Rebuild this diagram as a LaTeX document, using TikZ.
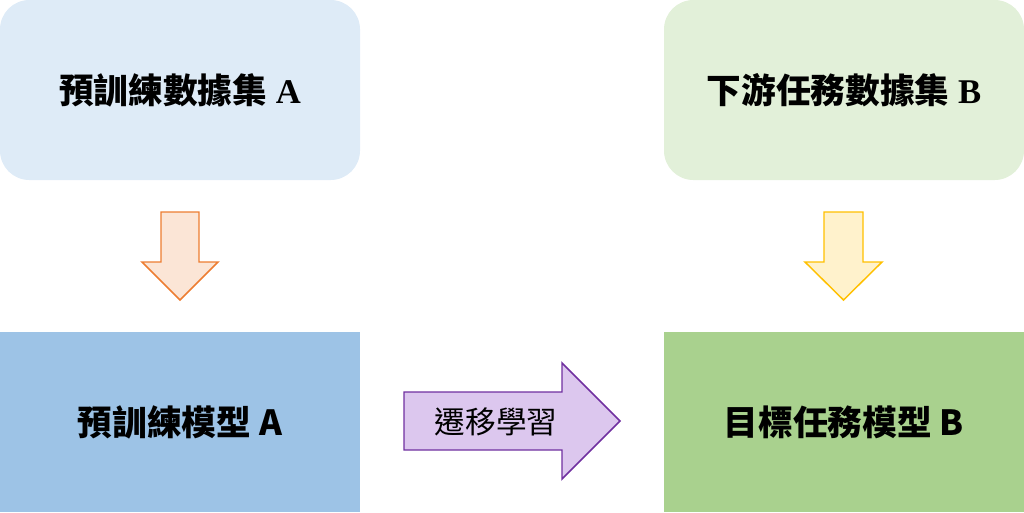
\documentclass[tikz,border=0pt]{standalone}
\usepackage{fontspec}
\setmainfont{Liberation Serif}
\newfontfamily\cjk{Noto Sans CJK TC}
\usetikzlibrary{calc}
\definecolor{dataBlue}{HTML}{DEEBF7}
\definecolor{dataGreen}{HTML}{E2F0D9}
\definecolor{modelBlue}{HTML}{9DC3E6}
\definecolor{modelGreen}{HTML}{A9D18E}
\definecolor{orangeFill}{HTML}{FBE5D6}
\definecolor{orangeLine}{HTML}{ED7D31}
\definecolor{yellowFill}{HTML}{FFF2CC}
\definecolor{yellowLine}{HTML}{FFC000}
\definecolor{purpleFill}{HTML}{DCC7EE}
\definecolor{purpleLine}{HTML}{7030A0}

\begin{document}
\begin{tikzpicture}[x=0.75pt, y=-0.75pt,
    box/.style={rectangle, minimum width=270pt, minimum height=135pt,
        inner sep=0pt, font=\fontsize{26}{31}\selectfont},
    databox/.style={box, rounded corners=22pt},
    blockarrow/.style={line width=1.1pt, line join=miter}]
    \useasboundingbox (0,0) rectangle (1024,512);
    % datasets
    \node[databox, fill=dataBlue] (dataA) at (180,90)
        {{\cjk\bfseries 預訓練數據集} \textbf{A}};
    \node[databox, fill=dataGreen] (dataB) at (844,90)
        {{\cjk\bfseries 下游任務數據集} \textbf{B}};
    % models
    \node[box, fill=modelBlue] (modelA) at (180,422)
        {\cjk\bfseries 預訓練模型 A};
    \node[box, fill=modelGreen] (modelB) at (844,422)
        {\cjk\bfseries 目標任務模型 B};

    % dataset -> model
    \draw[blockarrow, draw=orangeLine, fill=orangeFill]
        (161,212) -- (199,212) -- (199,262) -- (218,262) -- (180,300)
        -- (142,262) -- (161,262) -- cycle;
    \draw[blockarrow, draw=yellowLine, fill=yellowFill]
        (824,212) -- (863,212) -- (863,262) -- (882,262) -- (843.5,300)
        -- (805,262) -- (824,262) -- cycle;

    % transfer
    \draw[blockarrow, draw=purpleLine, fill=purpleFill]
        (404,392) -- (562,392) -- (562,363) -- (620,421) -- (562,479)
        -- (562,450) -- (404,450) -- cycle;
    \node[font=\fontsize{23}{27}\selectfont] (transfer) at (496,422)
        {\cjk 遷移學習};
\end{tikzpicture}
\end{document}
